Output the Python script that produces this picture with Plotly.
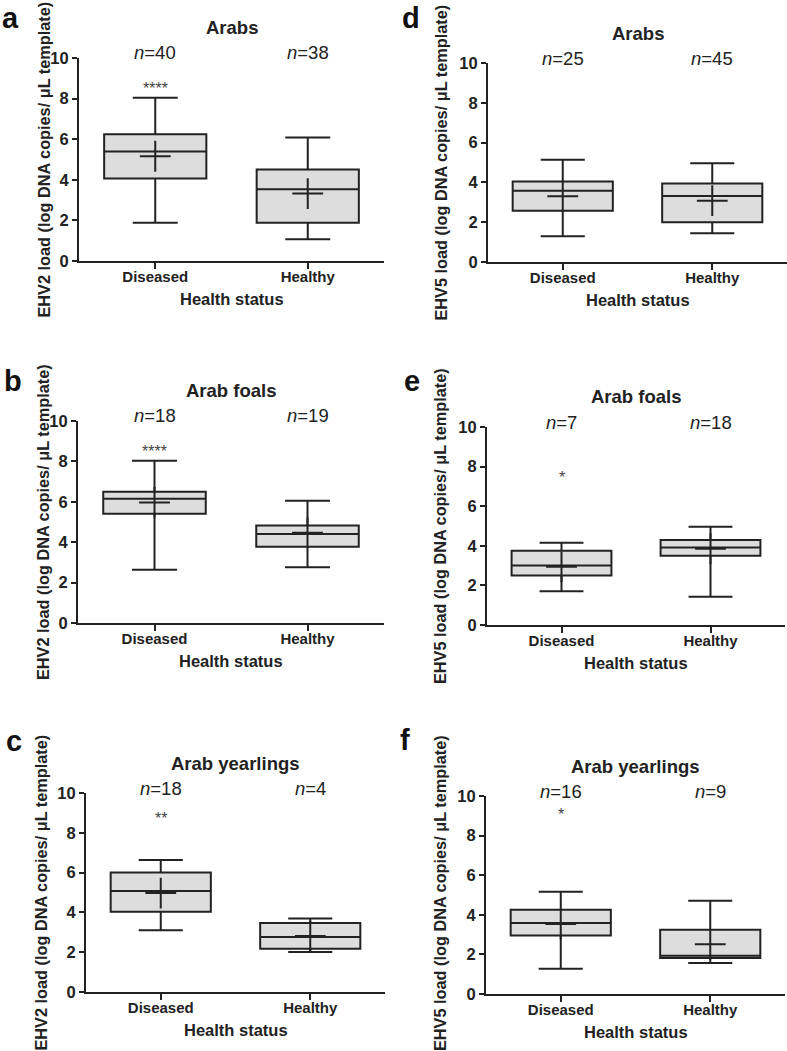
import plotly.graph_objects as go

W, H = 787, 1051

groups = ["Diseased", "Healthy"]

# panel order: a, b, c (EHV2) then d, e, f (EHV5)
panel_letters = ["a", "b", "c", "d", "e", "f"]
panel_titles = ["Arabs", "Arab foals", "Arab yearlings", "Arabs", "Arab foals", "Arab yearlings"]
virus = ["EHV2", "EHV2", "EHV2", "EHV5", "EHV5", "EHV5"]

n_labels = [["40", "38"], ["18", "19"], ["18", "4"], ["25", "45"], ["7", "18"], ["16", "9"]]

q_min = [[1.88, 1.07], [2.63, 2.76], [3.10, 2.01], [1.29, 1.44], [1.70, 1.43], [1.28, 1.56]]
q1 = [[4.06, 1.88], [5.41, 3.78], [4.03, 2.17], [2.58, 2.00], [2.50, 3.50], [2.96, 1.82]]
q_med = [[5.40, 3.53], [6.15, 4.41], [5.08, 2.77], [3.58, 3.32], [3.01, 3.92], [3.58, 1.93]]
q3 = [[6.25, 4.51], [6.50, 4.83], [6.00, 3.47], [4.04, 3.94], [3.75, 4.29], [4.25, 3.24]]
q_max = [[8.04, 6.08], [8.03, 6.05], [6.63, 3.69], [5.14, 4.96], [4.15, 4.96], [5.16, 4.71]]
means = [[5.16, 3.32], [5.97, 4.47], [4.97, 2.81], [3.30, 3.08], [2.94, 3.85], [3.53, 2.51]]

# significance stars over the Diseased group
stars = ["****", "****", "**", "", "*", "*"]
star_y = [8.5, 8.47, 8.74, 0, 7.45, 9.09]

y_ticks = [0, 2, 4, 6, 8, 10]

# pixel layout of each plot area: (left, right, top, bottom)
boxes_px = [
    (79, 384, 58, 261),
    (78, 384, 421, 623),
    (86, 385, 793, 992),
    (488, 787, 63, 262),
    (487, 785, 427, 625),
    (486, 785, 796, 994),
]
ytitle_x = [43, 43, 40, 440, 440, 440]
ytitle_shift = [0, 0, 0, 0, 0, 2]
# letter x, and either a centre y or None (pinned to the top edge)
letter_xy = [(10, None), (13, 381), (14, 741), (411, None), (412, 381), (405, 740)]

FONT = "Arial, Liberation Sans, sans-serif"
INK = "#222222"

fig = go.Figure()
layout = dict(
    width=W, height=H,
    margin=dict(l=0, r=0, t=0, b=0, autoexpand=False),
    paper_bgcolor="white", plot_bgcolor="white",
    showlegend=False,
    font=dict(family=FONT, color=INK),
)
annotations = []

for i in range(6):
    sfx = "" if i == 0 else str(i + 1)
    xa, ya = "x" + sfx, "y" + sfx
    l, r, t, b = boxes_px[i]

    fig.add_trace(go.Box(
        x=groups,
        q1=q1[i], median=q_med[i], q3=q3[i],
        lowerfence=q_min[i], upperfence=q_max[i],
        width=0.67, whiskerwidth=0.44,
        fillcolor="#dddddd",
        line=dict(color=INK, width=2),
        xaxis=xa, yaxis=ya, hoverinfo="skip",
    ))
    fig.add_trace(go.Scatter(
        x=groups, y=means[i], mode="markers",
        marker=dict(symbol="cross-thin", size=22,
                    line=dict(color=INK, width=2)),
        xaxis=xa, yaxis=ya, hoverinfo="skip",
    ))

    layout["xaxis" + sfx] = dict(
        domain=[l / W, r / W], anchor=ya, automargin=False,
        type="category", categoryorder="array", categoryarray=groups,
        range=[-0.5, 1.5],
        showline=True, linecolor=INK, linewidth=2,
        ticks="outside", ticklen=6, tickwidth=2, tickcolor=INK,
        ticklabelstandoff=-5,
        showgrid=False, zeroline=False,
        tickfont=dict(family=FONT, size=15, color=INK, weight="bold"),
    )
    layout["yaxis" + sfx] = dict(
        domain=[1 - b / H, 1 - t / H], anchor=xa, automargin=False,
        range=[0, 10], tickvals=y_ticks,
        showline=True, linecolor=INK, linewidth=2,
        ticks="outside", ticklen=5, tickwidth=2, tickcolor=INK,
        showgrid=False, zeroline=False,
        tickfont=dict(family=FONT, size=16.5, color=INK, weight="bold"),
    )

    cx = (l + r) / 2 / W
    # panel title
    annotations.append(dict(
        text="<b>%s</b>" % panel_titles[i], x=cx, y=1 - (t - 30) / H,
        xref="paper", yref="paper", showarrow=False,
        xanchor="center", yanchor="middle",
        font=dict(size=18.5, color=INK)))
    # x axis title
    annotations.append(dict(
        text="<b>Health status</b>", x=cx, y=1 - (b + 38) / H,
        xref="paper", yref="paper", showarrow=False,
        xanchor="center", yanchor="middle",
        font=dict(size=16.5, color=INK)))
    # y axis title
    annotations.append(dict(
        text="<b>%s load (log DNA copies/ μL template)</b>" % virus[i],
        x=ytitle_x[i] / W, y=1 - ((t + b) / 2 - ytitle_shift[i]) / H,
        xref="paper", yref="paper", showarrow=False, textangle=-90,
        xanchor="center", yanchor="middle",
        font=dict(size=16.3, color=INK)))
    # panel letter
    lx, ly = letter_xy[i]
    if ly is None:
        pos = dict(y=1, yanchor="top")
    else:
        pos = dict(y=1 - ly / H, yanchor="middle")
    annotations.append(dict(
        text="<b>%s</b>" % panel_letters[i], x=lx / W,
        xref="paper", yref="paper", showarrow=False, xanchor="center",
        font=dict(size=29, color="#111111"), **pos))
    # n labels, just above the top of the axis
    for g, n in zip(groups, n_labels[i]):
        annotations.append(dict(
            text="<i>n</i>=%s" % n, x=g, y=1.025, xref=xa, yref=ya + " domain",
            showarrow=False, xanchor="center", yanchor="middle",
            font=dict(size=18.5, color=INK)))
    # significance stars
    if stars[i]:
        annotations.append(dict(
            text=stars[i], x=groups[0], y=star_y[i], xref=xa, yref=ya,
            showarrow=False, xanchor="center", yanchor="middle",
            font=dict(size=16, color="#444444")))

layout["annotations"] = annotations
fig.update_layout(**layout)
# drop the browser's default body margin so the figure sits at the page corner
fig.write_html(
    "out.html",
    config={"displayModeBar": False},
    post_script="document.body.style.margin='0';document.body.style.overflow='hidden';",
)
